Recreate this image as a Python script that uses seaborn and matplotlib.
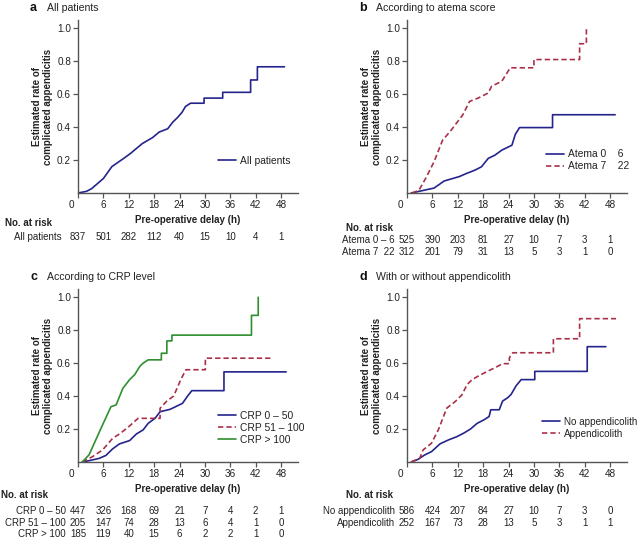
import matplotlib
matplotlib.use("Agg")
import matplotlib.pyplot as plt
import matplotlib.transforms as mtransforms
import seaborn as sns
import pandas as pd

sns.set_theme(style="ticks")
plt.rcParams['font.family'] = ['Liberation Sans', 'DejaVu Sans']

# ---------------- data ----------------
time_ticks = [0, 6, 12, 18, 24, 30, 36, 42, 48]

# panel a
all_t = [0, 2, 3.2, 6, 8, 10.8, 12.4, 15.2, 17.6, 19.2, 21.2, 22.4, 23.6, 24.6, 25.4, 26.6,
         29.8, 29.8, 34.2, 34.2, 40.8, 40.8, 42.4, 42.4, 48.8]
all_r = [0, 0.01, 0.026, 0.088, 0.16, 0.21, 0.24, 0.30, 0.336, 0.37, 0.39, 0.43, 0.46, 0.49, 0.525, 0.545,
         0.545, 0.576, 0.576, 0.611, 0.611, 0.686, 0.686, 0.766, 0.766]
all_risk = [837, 501, 282, 112, 40, 15, 10, 4, 1]

# panel b
at06_t = [1.0, 3.2, 6.4, 8.8, 12.4, 14.0, 16.0, 17.6, 19.2, 20.8, 22.4, 24.8, 25.6, 26.6, 34.4, 34.4, 49.2]
at06_r = [0, 0.012, 0.03, 0.073, 0.10, 0.118, 0.138, 0.159, 0.21, 0.23, 0.26, 0.29, 0.356, 0.397, 0.397, 0.475, 0.475]
at722_t = [1.2, 2.8, 4.4, 6.4, 8.4, 10.4, 13.2, 14.8, 16.8, 19.2, 20.0, 22.4, 24.4, 30.0, 30.0, 40.8, 40.8, 42.4, 42.4]
at722_r = [0, 0.016, 0.088, 0.19, 0.32, 0.38, 0.475, 0.556, 0.576, 0.607, 0.648, 0.678, 0.76, 0.76, 0.81, 0.81, 0.906, 0.906, 1.0]
at06_risk = [525, 390, 203, 81, 27, 10, 7, 3, 1]
at722_risk = [312, 201, 79, 31, 13, 5, 3, 1, 0]

# panel c
crp1_t = [1.0, 2.6, 5.0, 6.6, 8.2, 9.8, 12.2, 13.8, 15.4, 16.6, 18.2, 19.4, 21.8, 24.7, 25.9, 26.9, 34.5, 34.5, 49.2]
crp1_r = [0, 0.008, 0.022, 0.04, 0.08, 0.11, 0.13, 0.17, 0.195, 0.235, 0.265, 0.305, 0.32, 0.356, 0.40, 0.433, 0.433, 0.547, 0.547]
crp2_t = [1.0, 3.4, 5.8, 8.2, 9.8, 11.8, 14.2, 19.4, 19.4, 21.0, 22.6, 24.3, 25.5, 30.1, 30.1, 46.0]
crp2_r = [0, 0.032, 0.073, 0.144, 0.17, 0.21, 0.265, 0.265, 0.326, 0.37, 0.40, 0.50, 0.56, 0.56, 0.63, 0.63]
crp3_t = [1.0, 2.6, 4.2, 5.8, 7.8, 9.0, 10.6, 12.2, 13.4, 14.6, 15.4, 16.6, 19.7, 19.7, 21.0, 21.0, 22.2, 22.2,
          41.0, 41.0, 42.6, 42.6]
crp3_r = [0, 0.043, 0.134, 0.225, 0.336, 0.346, 0.447, 0.50, 0.53, 0.58, 0.60, 0.62, 0.62, 0.66, 0.66, 0.735, 0.735, 0.77,
          0.77, 0.89, 0.89, 1.0]
crp1_risk = [447, 326, 168, 69, 21, 7, 4, 2, 1]
crp2_risk = [205, 147, 74, 28, 13, 6, 4, 1, 0]
crp3_risk = [185, 119, 40, 15, 6, 2, 2, 1, 0]

# panel d
noap_t = [1.0, 2.6, 4.2, 5.8, 7.8, 9.8, 11.8, 13.4, 15.0, 16.6, 18.2, 19.4, 19.8, 21.8, 22.6, 23.8, 24.6, 25.8, 27.0,
          30.2, 30.2, 42.6, 42.6, 47.0]
noap_r = [0, 0.016, 0.043, 0.063, 0.11, 0.134, 0.154, 0.175, 0.20, 0.235, 0.256, 0.276, 0.317, 0.317, 0.37, 0.39, 0.41,
          0.463, 0.50, 0.50, 0.55, 0.55, 0.70, 0.70]
ap_t = [1.0, 3.0, 3.8, 5.8, 7.4, 9.4, 11.4, 13.0, 14.2, 15.4, 17.0, 19.0, 21.0, 22.6, 24.2, 24.2, 25.0, 34.6, 34.6,
        40.8, 40.8, 49.4]
ap_r = [0, 0.022, 0.073, 0.114, 0.195, 0.327, 0.367, 0.408, 0.47, 0.50, 0.524, 0.55, 0.575, 0.597, 0.597, 0.633,
        0.663, 0.663, 0.748, 0.748, 0.87, 0.87]
noap_risk = [586, 424, 207, 84, 27, 10, 7, 3, 0]
ap_risk = [252, 167, 73, 28, 13, 5, 3, 1, 1]

BLUE = "#24248c"
RED = "#aa3049"
GREEN = "#2f8f2f"
SPINE = "#555555"
TXT = "#222222"

W, H = 637, 543
fig = plt.figure(figsize=(W / 100, H / 100), dpi=100)


def add_axes(x0, y_top, x1, y_bot):
    return fig.add_axes([x0 / W, 1 - y_bot / H, (x1 - x0) / W, (y_bot - y_top) / H])


def style_ax(ax):
    ax.set_xlim(0, 52)
    ax.set_ylim(0, 1.05)
    ax.set_xticks(time_ticks)
    ax.set_xticklabels([str(t) for t in time_ticks])
    ax.set_yticks([0.2, 0.4, 0.6, 0.8, 1.0])
    ax.set_yticklabels(["0.2", "0.4", "0.6", "0.8", "1.0"])
    for s in ["top", "right"]:
        ax.spines[s].set_visible(False)
    for s in ["left", "bottom"]:
        ax.spines[s].set_color(SPINE)
        ax.spines[s].set_linewidth(1.0)
    ax.tick_params(axis="both", direction="out", length=3.5, width=0.9, color=SPINE,
                   labelsize=7.2, labelcolor=TXT, pad=1.5)
    ax.set_xlabel("Pre-operative delay (h)", fontsize=7, fontweight="bold", labelpad=3.5, color=TXT)
    ax.set_ylabel("Estimated rate of\ncomplicated appendicitis", fontsize=7, fontweight="bold",
                  labelpad=3, color=TXT, linespacing=1.05)
    lab = ax.get_xticklabels()[0]
    lab.set_transform(lab.get_transform() + mtransforms.ScaledTranslation(-7 / 100, 0, fig.dpi_scale_trans))
    ax.grid(False)


def draw(ax, t, r, label, color, dashed=False):
    df = pd.DataFrame({"t": t, "r": r})
    sns.lineplot(data=df, x="t", y="r", ax=ax, color=color, lw=1.2, sort=False, estimator=None,
                 label=label, dashes=False)
    if dashed:
        ax.get_lines()[-1].set_dashes((3.2, 1.8))


def legend(ax, x, y, fs=7.4):
    leg = ax.legend(loc="center left", bbox_to_anchor=(x, y), frameon=False, fontsize=fs,
                    handlelength=1.75, handletextpad=0.4, labelspacing=0.2, borderpad=0, borderaxespad=0)
    for tx in leg.get_texts():
        tx.set_color(TXT)


def panel_title(x, y, letter, text):
    fig.text(x / W, 1 - y / H, letter, fontsize=9, fontweight="bold", va="center", ha="left", color="#111111")
    fig.text((x + 17) / W, 1 - y / H, text, fontsize=7.6, va="center", ha="left", color=TXT)


def risk_table(ax, head_x, head_y, label_x, rows):
    fig.text(head_x / W, 1 - head_y / H, "No. at risk", fontsize=7, fontweight="bold", va="center",
             ha="left", color=TXT)
    trans = mtransforms.blended_transform_factory(ax.transData, fig.transFigure)
    for name, vals, y in rows:
        fig.text(label_x / W, 1 - y / H, name, fontsize=7, va="center", ha="right", color=TXT)
        for tt, v in zip(time_ticks, vals):
            ax.text(tt, 1 - y / H, str(v), transform=trans, fontsize=7, va="center", ha="center",
                    color=TXT)


# ---- panel a ----
axa = add_axes(78, 20, 298, 193)
draw(axa, all_t, all_r, "All patients", BLUE)
style_ax(axa)
legend(axa, 0.635, 0.185)
panel_title(30, 8, "a", "All patients")
risk_table(axa, 5, 223, 62, [("All patients", all_risk, 237)])

# ---- panel b ----
axb = add_axes(407, 20, 627, 193)
draw(axb, at06_t, at06_r, "Atema 0    6", BLUE)
draw(axb, at722_t, at722_r, "Atema 7    22", RED, dashed=True)
style_ax(axb)
legend(axb, 0.632, 0.19)
panel_title(359, 8, "b", "According to atema score")
risk_table(axb, 346, 228, 395, [("Atema 0 \u2013 6", at06_risk, 240), ("Atema 7  22", at722_risk, 252)])

# ---- panel c ----
axc = add_axes(78, 289, 298, 462)
draw(axc, crp1_t, crp1_r, "CRP 0 \u2013 50", BLUE)
draw(axc, crp2_t, crp2_r, "CRP 51 \u2013 100", RED, dashed=True)
draw(axc, crp3_t, crp3_r, "CRP > 100", GREEN)
style_ax(axc)
legend(axc, 0.635, 0.197)
panel_title(30, 277, "c", "According to CRP level")
risk_table(axc, 1, 495, 66, [("CRP 0 \u2013 50", crp1_risk, 511), ("CRP 51 \u2013 100", crp2_risk, 523),
                             ("CRP > 100", crp3_risk, 534)])

# ---- panel d ----
axd = add_axes(407, 289, 627, 462)
draw(axd, noap_t, noap_r, "No appendicolith", BLUE)
draw(axd, ap_t, ap_r, "Appendicolith", RED, dashed=True)
style_ax(axd)
legend(axd, 0.615, 0.197, fs=7.1)
panel_title(359, 277, "d", "With or without appendicolith")
risk_table(axd, 346, 495, 395, [("No appendicolith", noap_risk, 511), ("Appendicolith", ap_risk, 523)])

fig.savefig("out.png", dpi=100)
